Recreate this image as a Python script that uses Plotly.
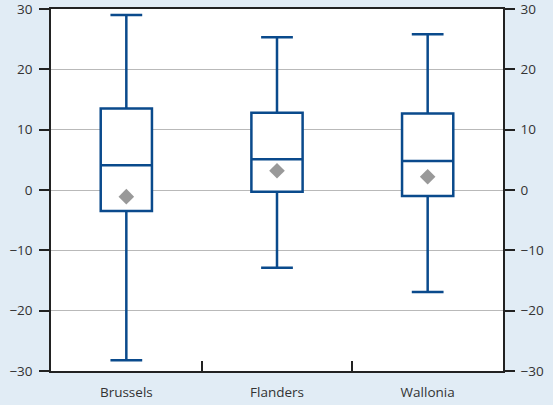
import plotly.graph_objects as go

categories = ["Brussels", "Flanders", "Wallonia"]
lower_whisker = [-28.2, -12.9, -16.9]
q1 = [-3.5, -0.3, -1.0]
median = [4.1, 5.1, 4.8]
q3 = [13.5, 12.8, 12.7]
upper_whisker = [29.0, 25.3, 25.8]
mean = [-1.1, 3.2, 2.2]
ytick_vals = [-30, -20, -10, 0, 10, 20, 30]

BLUE = "#0a4a8c"
BG = "#e1ecf5"
FONT = dict(family="Open Sans, Noto Sans, sans-serif", size=13.5, color="#333333")

fig = go.Figure()
fig.add_trace(go.Box(
    x=categories, q1=q1, median=median, q3=q3,
    lowerfence=lower_whisker, upperfence=upper_whisker,
    fillcolor="white", line=dict(color=BLUE, width=2.5),
    width=0.34, whiskerwidth=0.62, boxpoints=False, hoverinfo="skip",
    showlegend=False,
))
fig.add_trace(go.Scatter(
    x=categories, y=mean, mode="markers",
    marker=dict(symbol="diamond", size=12, color="#999999"),
    showlegend=False,
))
fig.add_trace(go.Scatter(
    x=categories, y=mean, mode="markers", yaxis="y2",
    marker=dict(opacity=0), showlegend=False, hoverinfo="skip",
))

fig.update_layout(
    width=553, height=405,
    margin=dict(l=51, r=50, t=9, b=34, autoexpand=False),
    paper_bgcolor=BG, plot_bgcolor="white",
    font=FONT,
    xaxis=dict(
        type="category", tickson="boundaries", ticks="inside", ticklen=10,
        tickcolor="#222222", tickwidth=1.5, automargin=False,
        showline=True, linecolor="#222222", linewidth=1.5, mirror=True,
        showgrid=False, range=[-0.5, 2.5], ticklabeloverflow="allow",
        ticklabelstandoff=8,
    ),
    yaxis=dict(
        range=[-30, 30], tickvals=ytick_vals, ticks="outside", ticklen=10,
        tickcolor="#222222", tickwidth=1.5, automargin=False,
        showline=True, linecolor="#222222", linewidth=1.5,
        showgrid=True, gridcolor="#b9b9b9", gridwidth=1.2, zeroline=False,
        ticklabeloverflow="allow", ticklabelstandoff=4,
    ),
    yaxis2=dict(
        range=[-30, 30], tickvals=ytick_vals, ticks="outside", ticklen=10,
        tickcolor="#222222", tickwidth=1.5, overlaying="y", side="right",
        automargin=False, ticklabeloverflow="allow", ticklabelstandoff=3,
        showline=True, linecolor="#222222", linewidth=1.5,
        showgrid=False, zeroline=False,
    ),
)

fig.write_html(
    "out.html",
    config={"displayModeBar": False},
    post_script="document.body.style.margin='0';document.body.style.background='%s';" % BG,
)
